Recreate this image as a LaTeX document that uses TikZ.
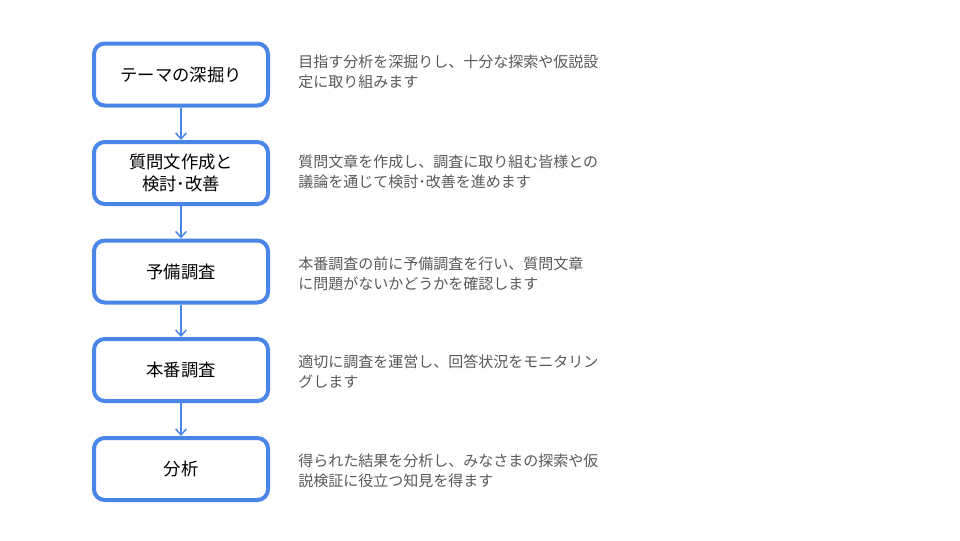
\documentclass[tikz,border=0pt]{standalone}
\usepackage{fontspec}
\setmainfont{Noto Sans CJK JP}
\usetikzlibrary{arrows.meta}
\definecolor{flowblue}{HTML}{4A86E8}
\definecolor{desc}{HTML}{595959}
\tikzset{
  stepbox/.style={draw=flowblue, line width=3pt, rounded corners=8pt, fill=white,
    minimum width=130.5pt, minimum height=46.5pt, align=center,
    font=\fontsize{13pt}{17pt}\selectfont, text=black, inner sep=2pt},
  descr/.style={anchor=west, align=left, text=desc, inner sep=0pt,
    font=\fontsize{11.25pt}{15pt}\selectfont},
  flow/.style={draw=flowblue, line width=1.1pt, -{Straight Barb[length=4.5pt,width=8pt,line width=1.1pt]}}
}
\begin{document}
\begin{tikzpicture}[x=0.75pt,y=-0.75pt]
\useasboundingbox (0,0) rectangle (960,540);
\fill[white] (0,0) rectangle (960,540);
\node[stepbox] (s1) at (181,74.5) {テーマの深掘り};
\node[stepbox] (s2) at (181,173) {質問文作成と\\検討･改善};
\node[stepbox] (s3) at (181,271.5) {予備調査};
\node[stepbox] (s4) at (181,370) {本番調査};
\node[stepbox] (s5) at (181,469) {分析};
\draw[flow] (s1) -- (s2);
\draw[flow] (s2) -- (s3);
\draw[flow] (s3) -- (s4);
\draw[flow] (s4) -- (s5);
\node[descr] (d1) at (298,72) {目指す分析を深掘りし、十分な探索や仮説設\\定に取り組みます};
\node[descr] (d2) at (298,172) {質問文章を作成し、調査に取り組む皆様との\\議論を通じて検討･改善を進めます};
\node[descr] (d3) at (298,274) {本番調査の前に予備調査を行い、質問文章\\に問題がないかどうかを確認します};
\node[descr] (d4) at (298,372) {適切に調査を運営し、回答状況をモニタリン\\グします};
\node[descr] (d5) at (298,471) {得られた結果を分析し、みなさまの探索や仮\\説検証に役立つ知見を得ます};
\end{tikzpicture}
\end{document}
